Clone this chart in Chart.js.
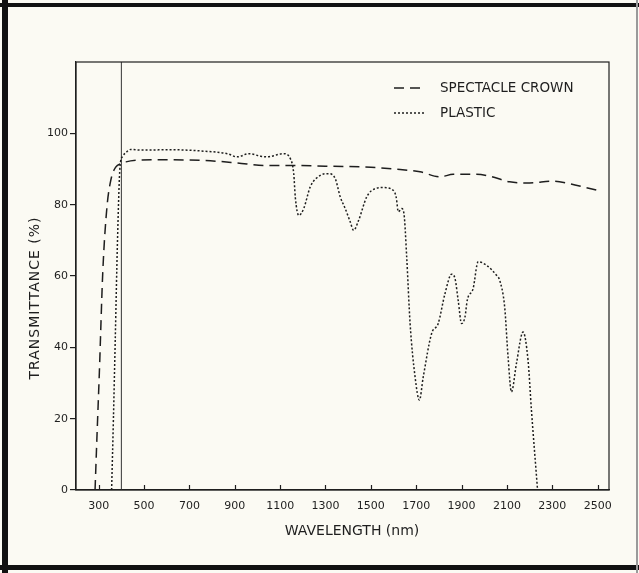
<!DOCTYPE html>
<html>
<head>
<meta charset="utf-8">
<script src="https://cdn.jsdelivr.net/npm/chart.js@4.4.1/dist/chart.umd.min.js"></script>
<style>
  html, body { margin: 0; padding: 0; background: #fbfaf3; }
  #wrap { width: 639px; height: 573px; position: relative; }
</style>
</head>
<body>
<div id="wrap"><canvas id="c" width="639" height="573"></canvas></div>
<script>
// ---- Data ----
const xTicks = [300, 500, 700, 900, 1100, 1300, 1500, 1700, 1900, 2100, 2300, 2500];
const yTicks = [0, 20, 40, 60, 80, 100];

const crownWl = [284, 293, 303, 318, 336, 354, 376, 398, 420, 543, 763, 911, 1028, 1175, 1300, 1500, 1600, 1717, 1805, 1863, 1966, 2024, 2112, 2200, 2302, 2376, 2449, 2515];
const crownT  = [0, 16, 33, 61, 79, 87, 90.6, 91.5, 92, 92.6, 92.4, 91.7, 91, 91, 90.8, 90.5, 90, 89.2, 87.8, 88.5, 88.5, 88, 86.4, 86.1, 86.6, 85.9, 84.8, 83.8];

const plasticWl = [357, 365, 373, 383, 394, 405, 420, 442, 486, 618, 763, 867, 911, 962, 1013, 1042, 1116, 1145, 1160, 1167, 1182, 1204, 1233, 1277, 1314, 1343, 1365, 1387, 1409, 1424, 1446, 1482, 1519, 1555, 1599, 1612, 1621, 1636, 1646, 1658, 1673, 1695, 1714, 1731, 1768, 1797, 1827, 1856, 1871, 1885, 1900, 1915, 1925, 1951, 1973, 2010, 2054, 2068, 2090, 2105, 2120, 2142, 2171, 2193, 2208, 2235];
const plasticT  = [0, 20, 42, 70, 90.6, 93.5, 94.6, 95.5, 95.3, 95.4, 95, 94.3, 93.4, 94.3, 93.6, 93.4, 94.3, 92.9, 88.7, 82, 77, 78.9, 85, 88.2, 88.7, 87.3, 82.2, 78.9, 75.2, 72.8, 75.6, 82.2, 84.5, 84.8, 84, 82, 78, 78.9, 77.5, 65.4, 46.7, 31.7, 25.2, 31.7, 43.9, 46.7, 55.1, 60.5, 59.3, 53.2, 46.7, 48.5, 53.2, 56.5, 64, 63, 60.2, 58.8, 51.3, 37.3, 27.5, 35.5, 44.3, 36.4, 22.4, 0];

const markerWl = [400, 400];
const markerT  = [0, 120];

const seriesNames = ['SPECTACLE CROWN', 'PLASTIC'];
const xTitle = 'WAVELENGTH (nm)';
const yTitle = 'TRANSMITTANCE (%)';

const INK = '#1e1e1e';
const toPts = (xs, ys) => xs.map((x, i) => ({ x: x, y: ys[i] }));

const crownDash = [10, 6];
const plasticDash = [2, 2];

const framePlugin = {
  id: 'frame',
  beforeDraw(chart) {
    const ctx = chart.ctx;
    ctx.save();
    ctx.fillStyle = '#fbfaf3';
    ctx.fillRect(0, 0, chart.width, chart.height);
    ctx.fillStyle = '#111';
    ctx.fillRect(0, 3, 639, 4);      // top bar
    ctx.fillRect(2, 0, 6, 573);      // left bar
    ctx.fillRect(0, 565, 639, 5);    // bottom bar
    ctx.fillStyle = '#9a9a9a';
    ctx.fillRect(636, 0, 2, 573);    // right edge
    ctx.restore();
  },
  afterDraw(chart) {
    const ctx = chart.ctx;
    const a = chart.chartArea;
    const xs = chart.scales.x;
    ctx.save();
    ctx.strokeStyle = INK;
    ctx.lineWidth = 1.2;
    ctx.strokeRect(a.left, a.top, a.right - a.left, a.bottom - a.top);
    // inward x ticks
    ctx.beginPath();
    xTicks.forEach(v => {
      const px = Math.round(xs.getPixelForValue(v)) + 0.5;
      ctx.moveTo(px, a.bottom);
      ctx.lineTo(px, a.bottom - 5);
    });
    ctx.stroke();

    // legend
    const ds = chart.data.datasets;
    const rows = [{ d: ds[0], y: 88 }, { d: ds[1], y: 113 }];
    ctx.font = '13.5px "DejaVu Sans"';
    ctx.textBaseline = 'middle';
    ctx.textAlign = 'left';
    rows.forEach(r => {
      ctx.beginPath();
      ctx.setLineDash(r.d.borderDash);
      ctx.lineWidth = r.d.borderWidth;
      ctx.strokeStyle = r.d.borderColor;
      ctx.moveTo(394, r.y);
      ctx.lineTo(424, r.y);
      ctx.stroke();
      ctx.setLineDash([]);
      ctx.fillStyle = INK;
      ctx.fillText(r.d.label, 440, r.y);
    });

    // axis titles
    ctx.fillStyle = INK;
    ctx.font = '14px "DejaVu Sans"';
    ctx.textAlign = 'center';
    ctx.fillText(xTitle, 352, 531);
    ctx.save();
    ctx.translate(35, 298);
    ctx.rotate(-Math.PI / 2);
    ctx.letterSpacing = '1px';
    ctx.fillText(yTitle, 0, 0);
    ctx.restore();
    ctx.restore();
  }
};

new Chart(document.getElementById('c'), {
  type: 'line',
  data: {
    datasets: [
      {
        label: seriesNames[0],
        data: toPts(crownWl, crownT),
        borderColor: INK, borderWidth: 1.5, borderDash: crownDash,
        pointRadius: 0, fill: false, cubicInterpolationMode: 'monotone'
      },
      {
        label: seriesNames[1],
        data: toPts(plasticWl, plasticT),
        borderColor: INK, borderWidth: 1.5, borderDash: plasticDash,
        pointRadius: 0, fill: false, cubicInterpolationMode: 'monotone'
      },
      {
        label: 'marker',
        data: toPts(markerWl, markerT),
        borderColor: '#333', borderWidth: 1,
        pointRadius: 0, fill: false
      }
    ]
  },
  options: {
    responsive: false,
    animation: false,
    devicePixelRatio: 1,
    layout: { padding: { top: 62, right: 30, left: 0, bottom: 0 } },
    plugins: { legend: { display: false }, tooltip: { enabled: false }, title: { display: false } },
    scales: {
      x: {
        type: 'linear', min: 200, max: 2550,
        afterBuildTicks: s => { s.ticks = xTicks.map(v => ({ value: v })); },
        afterFit: s => { s.height = 83; },
        grid: { display: false, drawTicks: false },
        border: { display: true, color: INK, width: 1.2 },
        ticks: { color: INK, padding: 10, maxRotation: 0, autoSkip: false,
                 callback: v => String(v),
                 font: { family: 'DejaVu Sans', size: 11 } }
      },
      y: {
        type: 'linear', min: 0, max: 120,
        afterBuildTicks: s => { s.ticks = yTicks.map(v => ({ value: v })); },
        afterFit: s => { s.width = 76; },
        grid: { drawOnChartArea: false, drawTicks: true, tickLength: 6, color: INK, lineWidth: 1.2 },
        border: { display: true, color: INK, width: 1.2 },
        ticks: { color: INK, padding: 2, callback: v => String(v),
                 font: { family: 'DejaVu Sans', size: 11 } }
      }
    }
  },
  plugins: [framePlugin]
});
</script>
</body>
</html>
